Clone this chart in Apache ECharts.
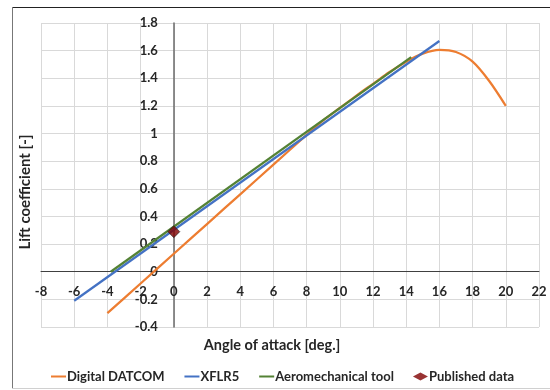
<!DOCTYPE html>
<html>
<head>
<meta charset="utf-8">
<script src="https://cdn.jsdelivr.net/npm/echarts@6/dist/echarts.min.js"></script>
<style>
  html, body { margin: 0; padding: 0; background: #fff; }
  #chart { width: 550px; height: 390px; }
</style>
</head>
<body>
<div id="chart"></div>
<script>
// values
const datcomAlpha = [-4, -2, 0, 2, 4, 6, 8, 9, 10, 11, 12, 13, 14, 15, 16, 17, 18, 19, 20]
const datcomCl = [-0.3, -0.085, 0.13, 0.345, 0.56, 0.775, 0.99, 1.095, 1.185, 1.275, 1.36, 1.445, 1.52, 1.578, 1.605, 1.59, 1.52, 1.38, 1.2]
const xflrAlpha = [-6, 16]
const xflrCl = [-0.21, 1.67]
const aeroAlpha = [-3.8, 14.3]
const aeroCl = [0, 1.553]
const publishedAlpha = [0]
const publishedCl = [0.29]

const seriesNames = ['Digital DATCOM', 'XFLR5', 'Aeromechanical tool', 'Published data']

const pairs = (xs, ys) => xs.map((x, i) => [x, ys[i]])

const font = 'Lato, "Open Sans", sans-serif'

// plot box, in pixels
const gridLeft = 41, gridRight = 11, gridTop = 23, gridBottom = 63
const xMin = -8, xMax = 22, yMin = -0.4, yMax = 1.8
const plotW = 550 - gridLeft - gridRight
const plotH = 390 - gridTop - gridBottom
// shift the axes (with their labels) onto the zero lines
const yAxisShift = -plotW * (0 - xMin) / (xMax - xMin)
const xAxisShift = -plotH * (0 - yMin) / (yMax - yMin)

const chart = echarts.init(document.getElementById('chart'))

const titleStyle = (text, size) => ({
    text,
    fontFamily: font, fontWeight: 'bold', fontSize: size,
    fill: '#262626',
    align: 'center',
    verticalAlign: 'middle'
})

chart.setOption({
    animation: false,
    grid: { left: gridLeft, right: gridRight, top: gridTop, bottom: gridBottom },
    graphic: [
        // chart area frame
        { type: 'line', shape: { x1: 12, y1: 7.5, x2: 550, y2: 7.5 }, style: { stroke: '#222', lineWidth: 1 }, silent: true },
        { type: 'line', shape: { x1: 12.5, y1: 7, x2: 12.5, y2: 389 }, style: { stroke: '#777', lineWidth: 1 }, silent: true },
        { type: 'line', shape: { x1: 12, y1: 388.5, x2: 550, y2: 388.5 }, style: { stroke: '#d0d0d0', lineWidth: 1 }, silent: true },
        { type: 'text', x: 272, y: 345, style: titleStyle('Angle of attack [deg.]', 14.5) },
        { type: 'text', x: 25, y: 192, rotation: Math.PI / 2, style: titleStyle('Lift coefficient [-]', 15) }
    ],
    legend: {
        left: 50,
        top: 370,
        padding: 0,
        itemWidth: 15,
        itemHeight: 8,
        itemGap: 19,
        symbolKeepAspect: true,
        textStyle: { fontFamily: font, fontWeight: 'bold', fontSize: 13, color: '#262626', padding: [0, 0, 0, -4] },
        data: [
            { name: seriesNames[0], itemStyle: { opacity: 0 } },
            { name: seriesNames[1], itemStyle: { opacity: 0 } },
            { name: seriesNames[2], itemStyle: { opacity: 0 } },
            { name: seriesNames[3], icon: 'diamond', itemStyle: { borderWidth: 0 } }
        ]
    },
    xAxis: {
        type: 'value',
        min: xMin,
        max: xMax,
        interval: 2,
        offset: xAxisShift,
        axisLine: { onZero: false, lineStyle: { color: '#404040', width: 1 } },
        axisTick: { show: false },
        axisLabel: { fontFamily: font, fontWeight: 'bold', fontSize: 13, color: '#262626', margin: 14 },
        splitLine: { lineStyle: { color: '#d9d9d9', width: 1 } }
    },
    yAxis: {
        type: 'value',
        min: yMin,
        max: yMax,
        interval: 0.2,
        offset: yAxisShift,
        axisLine: { onZero: false, lineStyle: { color: '#6a6a6a', width: 1.5 } },
        axisTick: { show: false },
        axisLabel: { fontFamily: font, fontWeight: 'bold', fontSize: 13, color: '#262626', margin: 16 },
        splitLine: { lineStyle: { color: '#d9d9d9', width: 1 } }
    },
    series: [
        {
            name: seriesNames[0],
            type: 'line',
            data: pairs(datcomAlpha, datcomCl),
            smooth: 0.3,
            symbol: 'none',
            lineStyle: { color: '#ed7d31', width: 2.25 },
            itemStyle: { color: '#ed7d31' }
        },
        {
            name: seriesNames[1],
            type: 'line',
            data: pairs(xflrAlpha, xflrCl),
            symbol: 'none',
            lineStyle: { color: '#4472c4', width: 2.25 },
            itemStyle: { color: '#4472c4' }
        },
        {
            name: seriesNames[2],
            type: 'line',
            data: pairs(aeroAlpha, aeroCl),
            symbol: 'none',
            lineStyle: { color: '#548235', width: 2.25 },
            itemStyle: { color: '#548235' }
        },
        {
            name: seriesNames[3],
            type: 'scatter',
            data: pairs(publishedAlpha, publishedCl),
            symbol: 'diamond',
            symbolSize: 12,
            symbolKeepAspect: true,
            itemStyle: { color: '#7f0000', borderColor: '#222', borderWidth: 0.8 },
            z: 5
        }
    ]
})

window.addEventListener('resize', () => chart.resize())
</script>
</body>
</html>
